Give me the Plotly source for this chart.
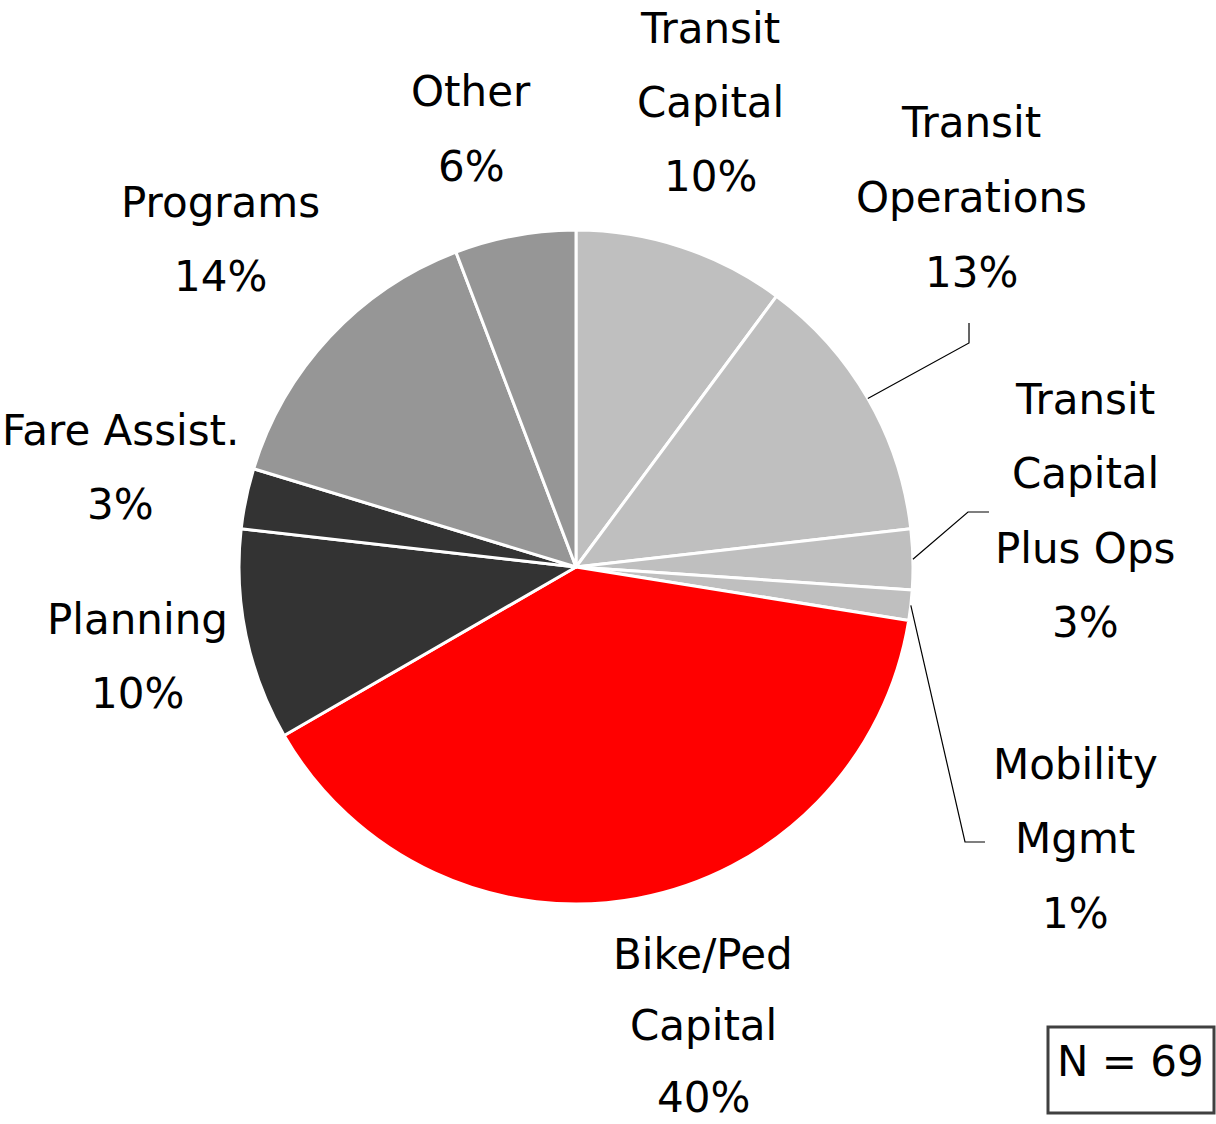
import math
import plotly.graph_objects as go

# ---------------- data ----------------
categories = ["Transit Capital", "Transit Operations", "Transit Capital Plus Ops",
              "Mobility Mgmt", "Bike/Ped Capital", "Planning", "Fare Assist.",
              "Programs", "Other"]
counts = [7, 9, 2, 1, 27, 7, 2, 10, 4]          # N = 69
pct_labels = ["10%", "13%", "3%", "1%", "40%", "10%", "3%", "14%", "6%"]
label_lines = [["Transit", "Capital"], ["Transit", "Operations"],
               ["Transit", "Capital", "Plus Ops"], ["Mobility", "Mgmt"],
               ["Bike/Ped", "Capital"], ["Planning"], ["Fare Assist."],
               ["Programs"], ["Other"]]
n_total = 69

# ---------------- style / layout ----------------
W, H = 1216, 1124
colors = ["#BFBFBF", "#BFBFBF", "#BFBFBF", "#BFBFBF", "#FF0000",
          "#333333", "#333333", "#969696", "#969696"]
CX, CY, R = 576, 567, 337          # pie centre / radius in px
FONT = "DejaVu Sans"
FS = 42
LINE_STEP = 74.5
# label anchor: centre x, cap-centre y of first line (px), line step (px)
label_pos = [(710, 28, LINE_STEP), (971, 123, LINE_STEP), (1085, 399, LINE_STEP),
             (1075, 764, LINE_STEP), (703, 954, 71.5),
             (137, 619, LINE_STEP), (120, 430, LINE_STEP), (220, 202, LINE_STEP),
             (471, 92, LINE_STEP)]
# leader line elbow points (px) for slices with leaders
leaders = {1: [(969, 343), (969, 323)],
           2: [(968, 512), (989, 512)],
           3: [(965, 842), (985, 842)]}


def px(x):
    return x / W


def py(y):
    return 1 - y / H


fig = go.Figure(go.Pie(
    labels=categories, values=counts, sort=False, direction="clockwise",
    rotation=0, textinfo="none", hoverinfo="label+percent",
    marker=dict(colors=colors, line=dict(color="white", width=3)),
    domain=dict(x=[px(CX - R), px(CX + R)], y=[py(CY + R), py(CY - R)]),
    showlegend=False,
))

annotations = []
for i, (lines, pct) in enumerate(zip(label_lines, pct_labels)):
    x0, y0, step = label_pos[i]
    for j, t in enumerate(lines + [pct]):
        annotations.append(dict(
            x=px(x0), y=py(y0 + j * step), xref="paper", yref="paper",
            text=t, showarrow=False, xanchor="center", yanchor="middle",
            borderpad=0,
            font=dict(family=FONT, size=FS, color="black")))

annotations.append(dict(
    x=px(1130), y=py(1061), xref="paper", yref="paper", text=f"N = {n_total}",
    showarrow=False, xanchor="center", yanchor="middle",
    font=dict(family=FONT, size=42, color="black")))

shapes = []
total = sum(counts)
cum = 0
mids = []
for v in counts:
    mids.append((cum + v / 2) / total * 2 * math.pi)
    cum += v
for i, pts in leaders.items():
    a = mids[i]
    sx, sy = CX + R * math.sin(a), CY - R * math.cos(a)
    path_pts = [(sx, sy)] + pts
    path = "M " + " L ".join(f"{px(x):.5f},{py(y):.5f}" for x, y in path_pts)
    shapes.append(dict(type="path", path=path, xref="paper", yref="paper",
                       line=dict(color="black", width=1.2)))

shapes.append(dict(type="rect", xref="paper", yref="paper",
                   x0=px(1048), x1=px(1214), y0=py(1113), y1=py(1027),
                   line=dict(color="#404040", width=3), fillcolor="white",
                   layer="below"))

fig.update_layout(
    width=W, height=H, margin=dict(l=0, r=0, t=0, b=0),
    paper_bgcolor="white", plot_bgcolor="white",
    annotations=annotations, shapes=shapes,
)

fig.write_html(
    "out.html",
    config={"displayModeBar": False},
    post_script="document.body.style.margin='0';document.body.style.overflow='hidden';",
)
